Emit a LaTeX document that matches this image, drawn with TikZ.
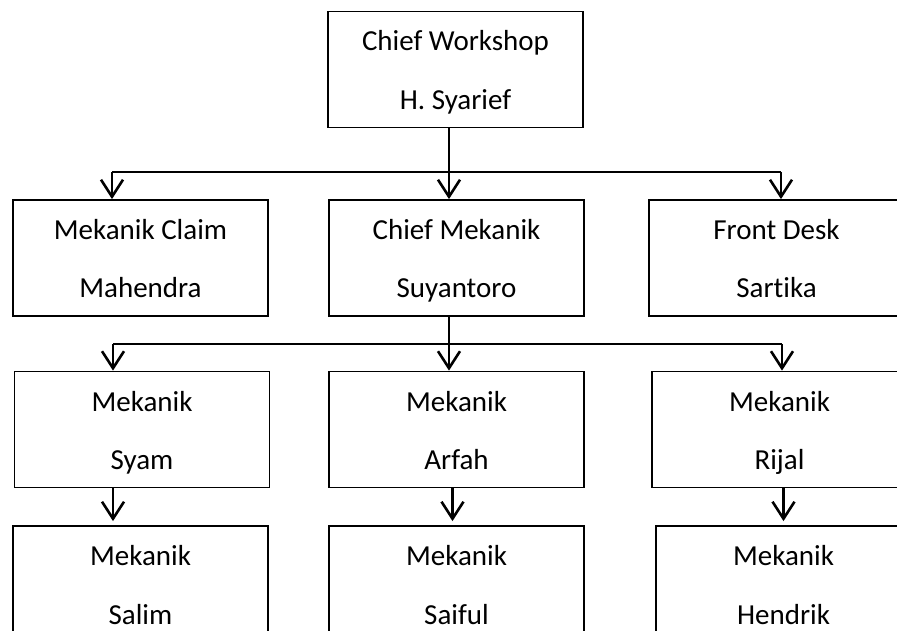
\documentclass[tikz,border=0pt]{standalone}
\usepackage{fontspec}
\setmainfont{Carlito}[Ligatures=NoCommon]
\usetikzlibrary{arrows.meta}

\newcommand\linestrut{\rule[-18pt]{0pt}{57.5pt}}
\newcommand\postlines[2]{\linestrut #1\\#2\linestrut}

\tikzset{
  post/.style={draw, line width=1.8pt, minimum width=255pt, minimum height=116pt,
    inner sep=0pt, align=center, font=\fontsize{29}{58.5}\selectfont},
  link/.style={line width=2.6pt},
  arr/.style={link, -{Straight Barb[length=17pt,width=22pt]}}
}

\begin{document}
\begin{tikzpicture}[x=1pt, y=-1pt]
  \useasboundingbox (0,0) rectangle (897,631);
  \clip (0,0) rectangle (897,631);

  \node [post, minimum height=115pt] (workshop) at (455.5,69.5) {\postlines{Chief Workshop}{H. Syarief}};

  \node [post] (claim) at (140.5,258) {\postlines{Mekanik Claim}{Mahendra}};
  \node [post] (chief) at (456.5,258) {\postlines{Chief Mekanik}{Suyantoro}};
  \node [post] (desk)  at (776.5,258) {\postlines{Front Desk}{Sartika}};

  \node [post, minimum height=115pt] (syam)  at (142,429.5) {\postlines{Mekanik}{Syam}};
  \node [post, minimum height=115pt] (arfah) at (456.5,429.5) {\postlines{Mekanik}{Arfah}};
  \node [post, minimum height=115pt] (rijal) at (779.5,429.5) {\postlines{Mekanik}{Rijal}};

  \node [post] (salim)   at (140.5,584) {\postlines{Mekanik}{Salim}};
  \node [post] (saiful)  at (456.5,584) {\postlines{Mekanik}{Saiful}};
  \node [post] (hendrik) at (783.5,584) {\postlines{Mekanik}{Hendrik}};

  % first branch
  \coordinate (busA)  at (449,172);
  \coordinate (busAL) at (112,172);
  \coordinate (busAR) at (781,172);
  \draw [link] (workshop.south -| busA) -- (busA);
  \draw [link] (busAL) -- (busAR);
  \foreach \from/\to in {busAL/claim, busA/chief, busAR/desk}
    \draw [arr] (\from) -- (\from |- \to.north);

  % second branch
  \coordinate (busB)  at (449,344);
  \coordinate (busBL) at (113,344);
  \coordinate (busBR) at (782,344);
  \draw [link] (chief.south -| busB) -- (busB);
  \draw [link] (busBL) -- (busBR);
  \foreach \from/\to in {busBL/syam, busB/arfah, busBR/rijal}
    \draw [arr] (\from) -- (\from |- \to.north);

  % mechanic to mechanic
  \draw [arr, shorten >=4pt] (syam.south -| busBL) -- (salim.north -| busBL);
  \draw [arr, shorten >=4pt] ([xshift=-4pt]arfah.south) -- ([xshift=-4pt]saiful.north);
  \draw [arr, shorten >=4pt] (rijal.south -| hendrik.north) -- (hendrik.north);
\end{tikzpicture}
\end{document}
